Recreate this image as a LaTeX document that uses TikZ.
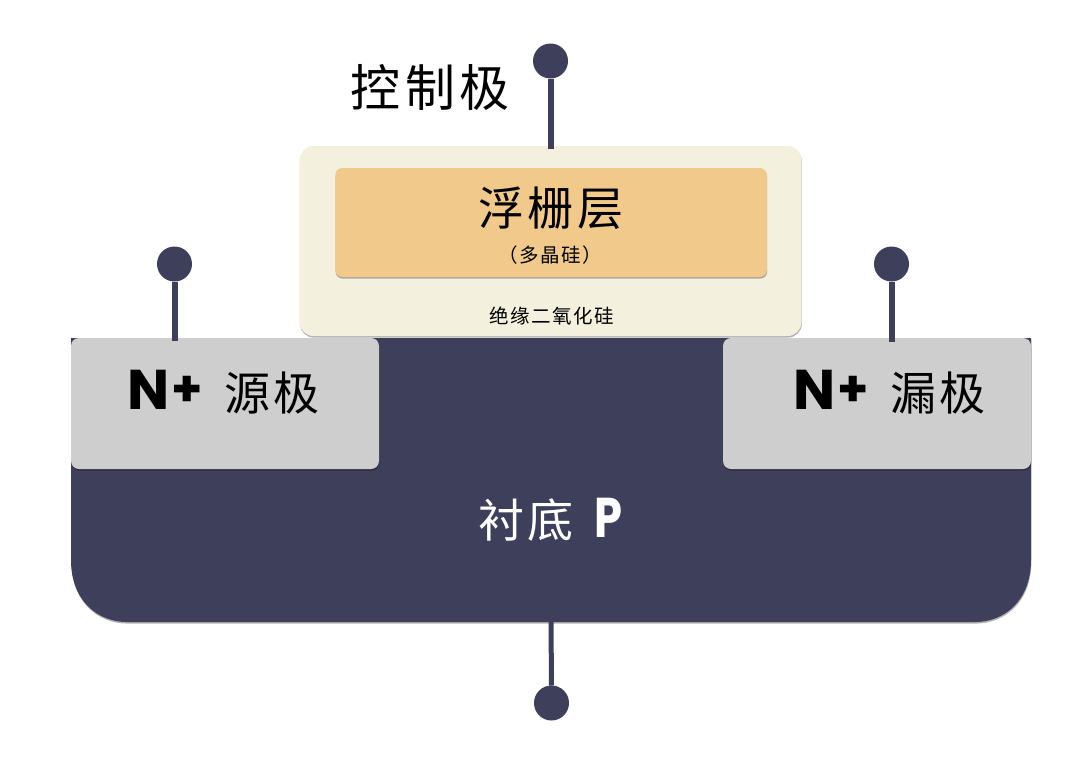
\documentclass[tikz,border=0pt]{standalone}
\usepackage{fontspec}
\setmainfont{Liberation Sans}
\newfontfamily\cjkbig[LetterSpace=7]{Noto Sans CJK SC}
\newfontfamily\cjkwide[LetterSpace=9]{Noto Sans CJK SC}
\newfontfamily\cjksmall[LetterSpace=8]{Noto Sans CJK SC}
\newfontfamily\latinb{Poppins}[UprightFont=* Bold]
\usetikzlibrary{shadows,positioning}
\definecolor{navy}{HTML}{3E405B}
\definecolor{creamc}{HTML}{F3F0DD}
\definecolor{orangec}{HTML}{F1CA8B}
\definecolor{grayc}{HTML}{CECECE}
\tikzset{
  softshadow/.style={drop shadow={shadow xshift=0.4pt,shadow yshift=-1.6pt,opacity=.3,fill=black}},
  plate/.style={rectangle,inner sep=0pt,outer sep=0pt,softshadow},
  terminal/.style={circle,fill=navy,inner sep=0pt,outer sep=0pt,minimum size=35pt},
  lead/.style={draw=navy,line width=6pt},
  big/.style={font=\fontsize{46}{46}\selectfont\cjkbig,inner sep=0pt},
  small/.style={font=\fontsize{19.5}{20}\selectfont\cjksmall,inner sep=0pt},
  mixed/.style={inner sep=0pt,anchor=base west},
}
\newcommand{\nplus}{{\latinb\fontsize{56}{56}\selectfont N\kern2pt\raisebox{3pt}{\fontsize{50}{50}\selectfont +}}}
\begin{document}
\begin{tikzpicture}[x=1pt,y=-1pt]
\useasboundingbox (0,0) rectangle (1080,761);
\fill[white] (0,0) rectangle (1080,761);
% substrate
\fill[navy,softshadow] (71,338) -- (1031,338) -- (1031,560)
  .. controls (1031,600) and (1005,622) .. (975,622)
  -- (127,622) .. controls (97,622) and (71,600) .. (71,560) -- cycle;
\coordinate (subtop) at (551,622);
% plates
\node[plate,fill=creamc,rounded corners=14pt,minimum width=502pt,minimum height=190pt] (oxide) at (550.5,241) {};
\node[plate,fill=orangec,rounded corners=7pt,minimum width=431.5pt,minimum height=109pt] (gate) at (551,222.5) {};
\node[plate,fill=grayc,rounded corners=8pt,minimum width=308pt,minimum height=131pt] (source) at (225,403.5) {};
\node[plate,fill=grayc,rounded corners=8pt,minimum width=308pt,minimum height=131pt] (drain) at (877,403.5) {};
% terminals
\node[terminal] (tctrl) at (550.5,61) {};
\node[terminal] (tsrc) at (174.5,264) {};
\node[terminal] (tdrn) at (891.5,264) {};
\node[terminal] (tsub) at (551.5,703) {};
% leads
\draw[lead] (tctrl.south) -- (tctrl.south |- oxide.north) -- ++(0,3);
\draw[lead] (tsrc.south) -- (tsrc.south |- source.north) -- ++(0,3);
\draw[lead] (tdrn.south) -- (tdrn.south |- drain.north) -- ++(0,4);
\draw[draw=navy,line width=5pt] (subtop) -- (tsub.north);
% labels
\node[inner sep=0pt,font=\fontsize{50}{50}\selectfont\cjkwide] (lctrl) at (430,87) {控制极};
\node[big] (lgate) at (551,208) {浮栅层};
\node[inner sep=0pt,font=\fontsize{19.5}{20}\selectfont\cjksmall] (lpoly) at (550,255.5) {（多晶硅）};
\node[small] (loxide) at (552,316) {绝缘二氧化硅};
\node[mixed] (lsrc) at (127,409) {\nplus};
\node[big,anchor=west] (lsrc2) at (224,393) {源极};
\node[mixed] (ldrn) at (793,409) {\nplus};
\node[big,anchor=west] (ldrn2) at (890,393) {漏极};
\node[big,text=white,anchor=west] (lsub) at (478,520) {衬底};
\node[mixed,text=white] (lp) at (594,537) {\latinb\fontsize{56}{56}\selectfont\scalebox{.8}[1]{P}};
\end{tikzpicture}
\end{document}
